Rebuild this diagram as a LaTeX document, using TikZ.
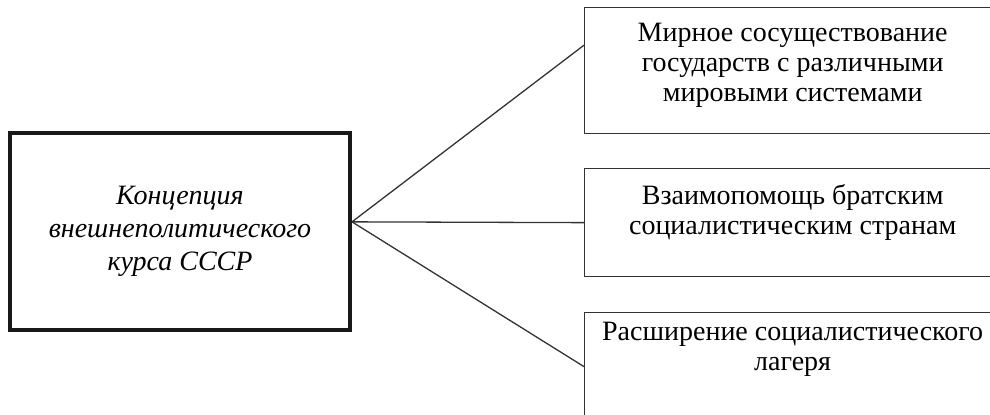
\documentclass[tikz,border=0pt]{standalone}
\usepackage{fontspec}
\setmainfont{Liberation Serif}
\usetikzlibrary{calc}

\tikzset{
    concept/.style={draw=black!90, rectangle, line width=2pt, minimum width=170pt,
        minimum height=98.5pt, align=center, font=\fontsize{14pt}{16.5pt}\selectfont\itshape},
    branch/.style={draw=black!80, rectangle, line width=0.65pt, inner sep=0pt,
        anchor=north west, font=\fontsize{14pt}{15pt}\selectfont},
    link/.style={draw=black!80, line width=0.65pt}
}

\begin{document}
\begin{tikzpicture}[x=0.5pt, y=-0.5pt]
    \useasboundingbox (0,0) rectangle (990,415);

    % Bloque principal
    \node[concept] (C) at (180,231.5) {Концепция\\внешнеполитического\\курса СССР};

    % Bloques de la derecha
    \node[branch] (R1) at (584,7) {\parbox[t][63pt][t]{208pt}{\centering\vspace*{8pt}
        Мирное сосуществование\\государств с различными\\мировыми системами}\hspace*{10pt}};
    \node[branch] (R2) at (584,168) {\parbox[t][54pt][t]{208pt}{\centering\vspace*{8pt}
        Взаимопомощь братским\\социалистическим странам}\hspace*{10pt}};
    \node[branch] (R3) at (584,312) {\parbox[t][54pt][t]{208pt}{\centering\vspace*{5pt}
        Расширение социалистического\\лагеря}\hspace*{10pt}};

    % Puntos de union
    \coordinate (H) at ($(C.north east)!0.452!(C.south east)$);
    \coordinate (E1) at ($(R1.north west)!0.3!(R1.south west)$);

    % Lineas
    \draw[link] (H) -- (E1);
    \draw[link] (H) -- (R2.west);
    \draw[link] (H) -- (R3.west);
\end{tikzpicture}
\end{document}
